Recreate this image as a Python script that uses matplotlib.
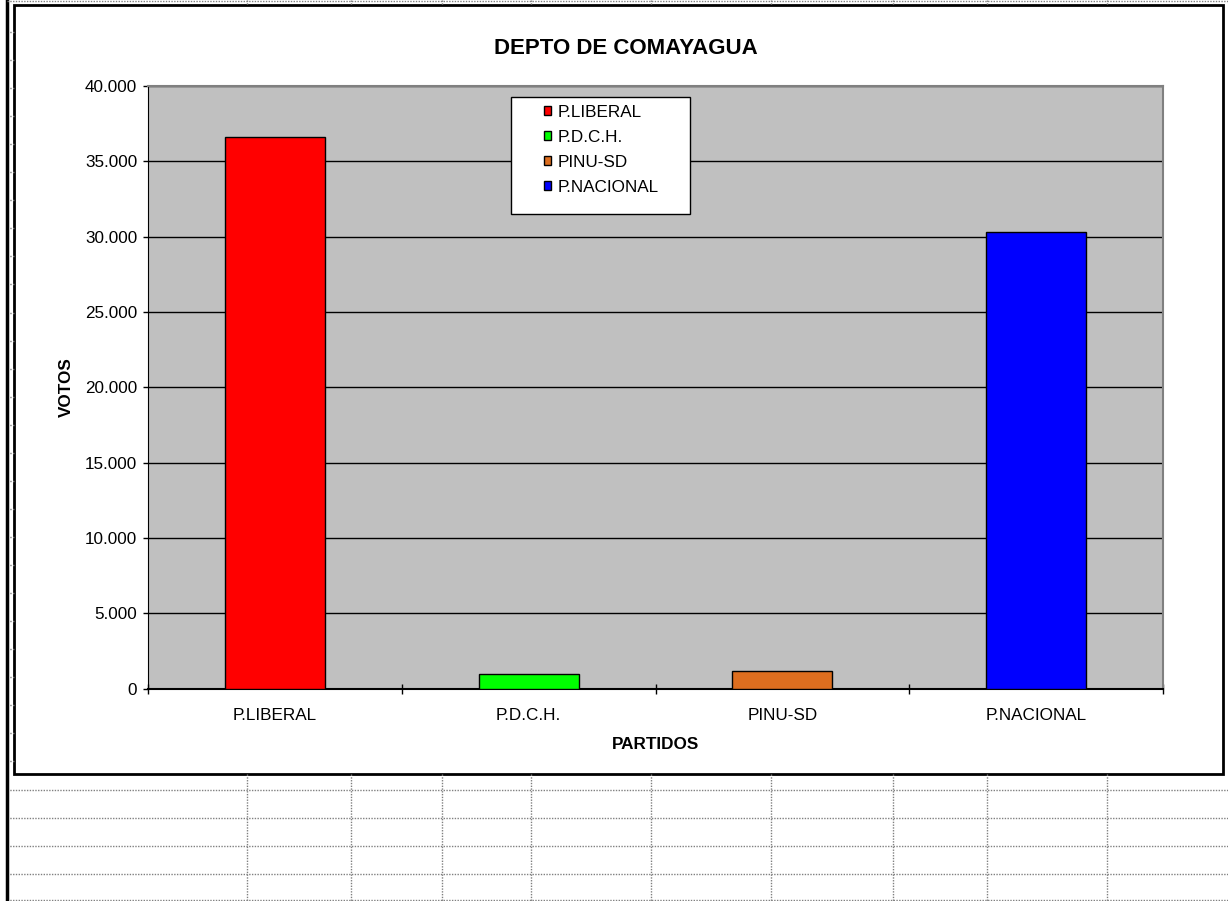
import numpy as np
import matplotlib
matplotlib.use("Agg")
from matplotlib import pyplot as plt
from matplotlib.patches import Rectangle
from matplotlib.ticker import FixedLocator, FuncFormatter

plt.rcParams['font.family'] = ['Liberation Sans', 'DejaVu Sans']

# data
partidos = ['P.LIBERAL', 'P.D.C.H.', 'PINU-SD', 'P.NACIONAL']
votos = [36600, 960, 1150, 30290]
colores = ['#FF0000', '#00FF00', '#DD6E1F', '#0000FF']
y_ticks = [0, 5000, 10000, 15000, 20000, 25000, 30000, 35000, 40000]

W, H = 1228, 901
fig = plt.figure(figsize=(W / 100, H / 100), dpi=100, facecolor='white')

# spreadsheet behind the chart (pixel coords)
bg = fig.add_axes([0, 0, 1, 1])
bg.set_xlim(0, W)
bg.set_ylim(H, 0)
bg.axis('off')
dots = dict(color='#808080', lw=1, ls=(0, (1, 1)))
col_x = [247, 351, 442, 531, 651, 771, 893, 987, 1107]
row_y = [790, 817.5, 845.5, 873.5, 900]
for x in col_x:
    bg.plot([x, x], [774, H], **dots)
    bg.plot([x, x], [0, 5], **dots)
for y in row_y:
    bg.plot([7, W], [y, y], **dots)
for y in np.arange(32, 774, 28.05):
    bg.plot([7, 14], [y, y], **dots)
bg.plot([7, 7], [0, H], color='black', lw=2.5)
bg.plot([7, W], [0.5, 0.5], **dots)
bg.add_patch(Rectangle((14, 5), 1209, 769, facecolor='white',
                       edgecolor='black', lw=2))

fig.text(626 / W, 1 - 48 / H, 'DEPTO DE COMAYAGUA', ha='center',
         va='center', fontsize=16, fontweight='bold')

# plot area
x0, x1, ytop, ybot = 148, 1163, 86, 688.7
ax = fig.add_axes([x0 / W, 1 - ybot / H, (x1 - x0) / W, (ybot - ytop) / H])
ax.set_facecolor('#C0C0C0')
pos = np.arange(len(partidos))
bars = ax.bar(pos, votos, width=0.394, color=colores, edgecolor='black',
              linewidth=1, zorder=3)

ax.set_xlim(-0.5, len(partidos) - 0.5)
ax.set_ylim(0, 40000)
ax.yaxis.set_major_locator(FixedLocator(y_ticks))
ax.yaxis.set_major_formatter(FuncFormatter(lambda v, p: f'{v:,.0f}'.replace(',', '.')))
ax.yaxis.grid(True, color='black', lw=1)
ax.set_axisbelow(True)

ax.xaxis.set_major_locator(FixedLocator(np.arange(-0.5, len(partidos), 1.0)))
ax.xaxis.set_major_formatter(FuncFormatter(lambda v, p: ''))
ax.xaxis.set_minor_locator(FixedLocator(pos))
ax.set_xticklabels(partidos, minor=True)
ax.tick_params(axis='x', which='major', direction='inout', length=7, width=1)
ax.tick_params(axis='x', which='minor', length=0, pad=14, labelsize=12.3)
ax.tick_params(axis='y', direction='out', length=3.5, width=1, pad=4.3,
               labelsize=12.3)

for s in ['top', 'right']:
    ax.spines[s].set_color('#808080')
    ax.spines[s].set_linewidth(1.5)
ax.spines['left'].set_color('black')
ax.spines['bottom'].set_color('black')
ax.spines['bottom'].set_linewidth(1.5)

ax.set_xlabel('PARTIDOS', fontsize=12.3, fontweight='bold', labelpad=10)
ax.set_ylabel('VOTOS', fontsize=12.3, fontweight='bold', labelpad=8)

# legend box
ax.add_patch(Rectangle((511 / W, 1 - 214 / H), 179 / W, 117 / H,
                       transform=fig.transFigure, facecolor='white',
                       edgecolor='black', lw=1, zorder=4, clip_on=False))
ax.legend(bars.patches, partidos, loc='upper left',
          bbox_to_anchor=(544 / W, 1 - 105 / H), bbox_transform=fig.transFigure,
          frameon=False, fontsize=12.3, handlelength=0.42, handleheight=0.42,
          handletextpad=0.35, labelspacing=0.58, borderpad=0, borderaxespad=0)

fig.savefig('out.png', dpi=100, facecolor='white')
